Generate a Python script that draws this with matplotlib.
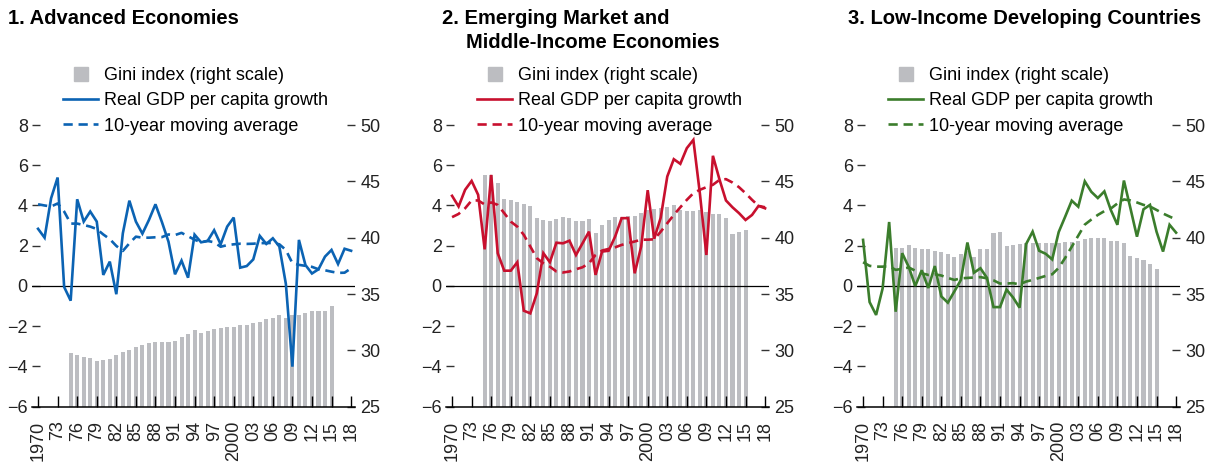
import numpy as np
import matplotlib.pyplot as plt
from matplotlib.lines import Line2D

plt.rcParams['font.family'] = ['Liberation Sans', 'DejaVu Sans']

years = np.arange(1970, 2019)
gini_years = np.arange(1975, 2016)

# 1. Advanced Economies
adv_growth = [2.84, 2.40, 4.36, 5.39, -0.05, -0.73, 4.31, 3.2, 3.70, 3.2,
              0.55, 1.21, -0.41, 2.62, 4.24, 3.2, 2.6, 3.28, 4.06, 3.17,
              2.2, 0.58, 1.26, 0.41, 2.55, 2.17, 2.24, 2.77, 2.07, 2.95,
              3.40, 0.91, 0.99, 1.32, 2.49, 2.09, 2.37, 1.96, 0.1, -4.01,
              2.29, 1.04, 0.62, 0.83, 1.46, 1.79, 1.09, 1.85, 1.75]
adv_ma = [4.06, 4.0, 3.95, 4.1, 3.7, 3.1, 3.1, 3.03, 2.95, 2.83,
          2.56, 2.33, 1.99, 1.74, 2.12, 2.45, 2.4, 2.4, 2.42, 2.43,
          2.56, 2.53, 2.64, 2.47, 2.3, 2.17, 2.24, 2.17, 1.95, 2.03,
          2.07, 2.1, 2.09, 2.1, 2.13, 2.13, 2.14, 2.07, 1.79, 1.13,
          1.05, 1.0, 0.95, 0.83, 0.78, 0.71, 0.65, 0.66, 0.88]
adv_gini = [29.79, 29.59, 29.41, 29.32, 29.06, 29.14, 29.23, 29.59, 29.88, 30.03,
            30.30, 30.48, 30.68, 30.74, 30.74, 30.74, 30.83, 31.19, 31.45, 31.81,
            31.57, 31.72, 31.9, 31.98, 32.07, 32.07, 32.25, 32.25, 32.43, 32.52,
            32.78, 32.87, 33.14, 32.87, 33.14, 33.14, 33.32, 33.49, 33.49, 33.49, 33.94]

# 2. Emerging Market and Middle-Income Economies
em_growth = [4.48, 3.95, 4.78, 5.22, 4.53, 1.82, 5.52, 1.63, 0.76, 0.76,
             1.18, -1.23, -1.36, -0.36, 1.63, 1.18, 2.15, 2.12, 2.25, 1.54,
             2.12, 2.70, 0.55, 1.71, 1.75, 2.45, 3.37, 3.37, 0.63, 1.96,
             4.76, 2.35, 3.4, 5.44, 6.30, 6.07, 6.85, 7.26, 4.6, 1.54,
             6.47, 5.3, 4.25, 3.91, 3.62, 3.28, 3.53, 3.98, 3.86]
em_ma = [3.42, 3.58, 3.86, 4.25, 4.25, 4.05, 4.15, 4.03, 3.62, 3.2,
         2.95, 2.54, 1.96, 1.38, 1.13, 0.96, 0.72, 0.67, 0.72, 0.83,
         0.93, 1.13, 1.54, 1.76, 1.84, 1.92, 2.04, 2.13, 2.21, 2.3,
         2.3, 2.32, 2.7, 3.12, 3.53, 3.91, 4.28, 4.61, 4.78, 4.91,
         5.03, 5.27, 5.31, 5.14, 4.91, 4.61, 4.28, 3.98, 3.91]
em_gini = [45.56, 45.56, 44.83, 43.41, 43.35, 43.19, 42.96, 42.81, 41.72, 41.57,
           41.48, 41.63, 41.81, 41.72, 41.48, 41.48, 41.63, 40.44, 41.13, 41.57,
           41.81, 41.81, 41.92, 41.92, 42.22, 42.46, 42.52, 42.66, 42.75, 42.87,
           42.46, 42.40, 42.37, 42.46, 42.28, 42.10, 42.10, 41.72, 40.33, 40.53, 40.68]

# 3. Low-Income Developing Countries
lidc_growth = [2.29, -0.8, -1.44, -0.12, 3.18, -1.28, 1.63, 0.95, 0.0, 0.78,
               -0.1, 0.99, -0.52, -0.83, -0.27, 0.3, 2.16, 0.66, 0.88, 0.4,
               -1.05, -1.05, -0.18, -0.57, -1.08, 2.08, 2.7, 1.75, 1.6, 1.32,
               2.68, 3.45, 4.24, 3.94, 5.2, 4.68, 4.37, 4.7, 3.77, 3.04,
               5.24, 3.86, 2.45, 3.81, 4.03, 2.70, 1.71, 3.04, 2.65]
lidc_ma = [1.18, 1.0, 0.96, 0.96, 0.98, 0.80, 0.85, 0.92, 0.76, 0.63,
           0.55, 0.58, 0.52, 0.40, 0.30, 0.38, 0.40, 0.42, 0.44, 0.38,
           0.28, 0.12, 0.12, 0.14, 0.08, 0.22, 0.3, 0.4, 0.5, 0.58,
           0.9, 1.4, 1.95, 2.5, 3.05, 3.3, 3.53, 3.72, 3.85, 4.1,
           4.3, 4.25, 4.15, 4.03, 3.95, 3.78, 3.6, 3.45, 3.3]
lidc_gini = [39.05, 39.05, 39.36, 39.05, 38.96, 38.96, 38.86, 38.70, 38.52, 38.25,
             38.52, 38.84, 38.32, 38.96, 38.96, 40.45, 40.52, 39.27, 39.38, 39.47,
             39.5, 39.56, 39.56, 39.56, 39.56, 39.56, 39.59, 39.64, 39.73, 39.86,
             39.95, 39.95, 39.95, 39.73, 39.71, 39.50, 38.37, 38.17, 38.02, 37.64, 37.22]

titles = ['1. Advanced Economies', '2. Emerging Market and', '3. Low-Income Developing Countries']
line_colors = ['#0b63b3', '#c8102e', '#3b7d2c']
bar_color = '#bcbdc1'

xtick_pos = np.arange(1970, 2019, 3)
xtick_lab = ['1970', '73', '76', '79', '82', '85', '88', '91', '94', '97',
             '2000', '03', '06', '09', '12', '15', '18']

panels = [(adv_growth, adv_ma, adv_gini), (em_growth, em_ma, em_gini),
          (lidc_growth, lidc_ma, lidc_gini)]
lefts = [32, 446, 857]     # axis left edge in pixels

fig = plt.figure(figsize=(12.1, 4.62), dpi=100)
W, H = 1210, 462

for k in range(3):
    growth, ma, gini = panels[k]
    col = line_colors[k]
    ax = fig.add_axes([lefts[k] / W, 1 - 406.7 / H, 323 / W, 281.7 / H])
    ax2 = ax.twinx()

    # gini bars on right scale
    ax2.bar(gini_years, np.array(gini) - 25, bottom=25, width=0.62, color=bar_color, zorder=1)
    ax2.set_ylim(25, 50)
    ax2.set_yticks(np.arange(25, 51, 5))

    ax.axhline(0, color='black', lw=0.9, zorder=2)
    ax.plot(years, growth, color=col, lw=1.9, zorder=3, solid_joinstyle='miter')
    ax.plot(years, ma, color=col, lw=1.9, dashes=(3.5, 2.2), zorder=3)
    ax.set_ylim(-6, 8)
    ax.set_yticks(np.arange(-6, 9, 2))
    ax.set_xlim(1969.07, 2018.6)
    ax.set_xticks(xtick_pos)
    ax.set_xticklabels(xtick_lab, rotation=90, fontsize=13, color='#222222')

    ax.set_zorder(ax2.get_zorder() + 1)
    ax.patch.set_visible(False)

    for s in ['left', 'right', 'top']:
        ax.spines[s].set_visible(False)
    for s in ax2.spines:
        ax2.spines[s].set_visible(False)
    ax.spines['bottom'].set_linewidth(1.1)

    ax.tick_params(axis='x', direction='in', length=8, width=1, pad=10)
    ax.tick_params(axis='y', direction='in', length=6, width=1, pad=3,
                   labelsize=13, color='#333333', labelcolor='#222222')
    ax2.tick_params(axis='y', direction='in', length=6, width=1, pad=4,
                    labelsize=13, color='#333333', labelcolor='#222222')

    handles = [Line2D([], [], marker='s', ls='none', color=bar_color, markersize=10),
               Line2D([], [], color=col, lw=1.9),
               Line2D([], [], color=col, lw=1.9, dashes=(3.5, 2.2))]
    labels = ['Gini index (right scale)', 'Real GDP per capita growth', '10-year moving average']
    ax.legend(handles, labels, loc='upper left', bbox_to_anchor=(31 / 323, (406.7 - 67) / 281.7),
              frameon=False, fontsize=13, borderpad=0, borderaxespad=0,
              handlelength=1.95, handletextpad=0.3, labelspacing=0.46)

# titles
fig.text(8 / W, 1 - 18 / H, titles[0], fontsize=14.5, fontweight='bold', va='center')
fig.text(442 / W, 1 - 18 / H, titles[1], fontsize=14.5, fontweight='bold', va='center')
fig.text(466 / W, 1 - 42 / H, 'Middle-Income Economies', fontsize=14.5, fontweight='bold', va='center')
fig.text(848 / W, 1 - 18 / H, titles[2], fontsize=14.5, fontweight='bold', va='center')

plt.savefig('out.png', dpi=100)
